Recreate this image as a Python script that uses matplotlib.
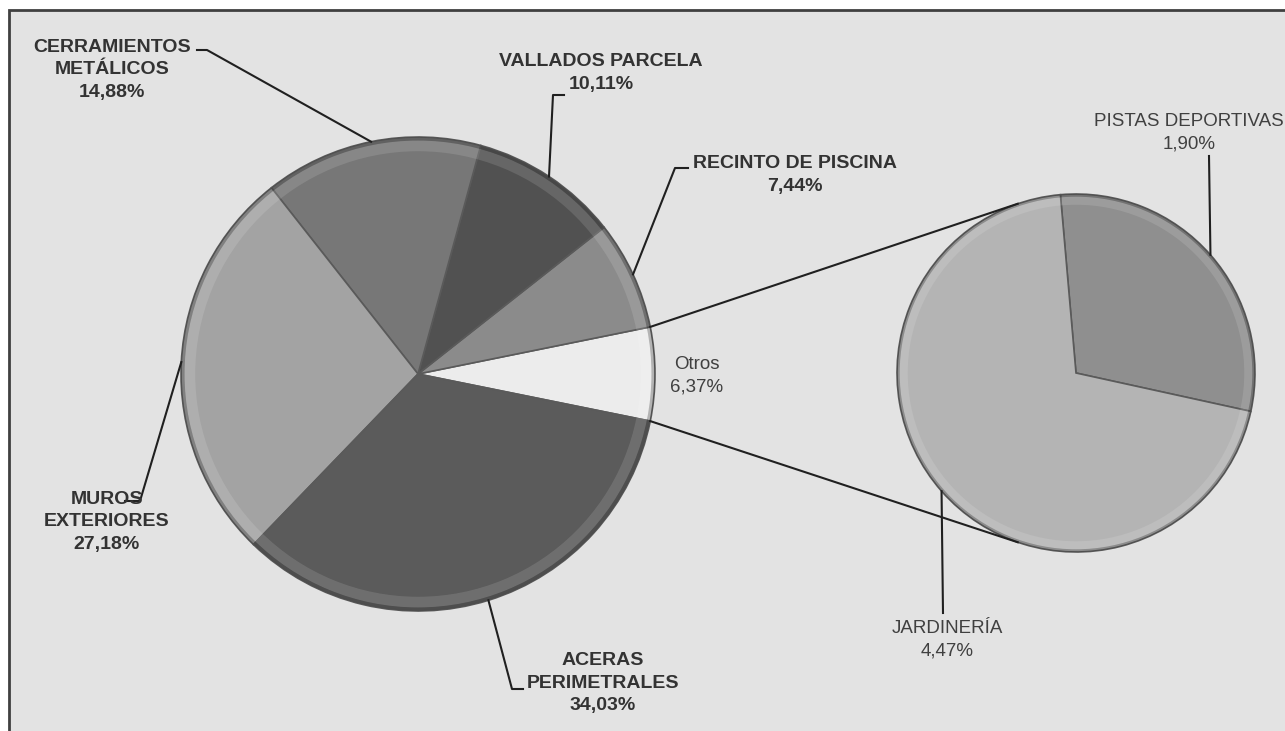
import matplotlib
matplotlib.use("Agg")
import matplotlib.pyplot as plt
from matplotlib.patches import Rectangle, Wedge
import numpy as np

W, H = 1285, 731

# datos (porcentaje del total)
main_names = ["Otros", "RECINTO DE PISCINA", "VALLADOS PARCELA",
              "CERRAMIENTOS\nMETÁLICOS", "MUROS\nEXTERIORES", "ACERAS\nPERIMETRALES"]
main_values = [6.37, 7.44, 10.11, 14.88, 27.18, 34.03]
main_colors = ["#ececec", "#8b8b8b", "#515151", "#777777", "#a3a3a3", "#5b5b5b"]

sub_names = ["PISTAS DEPORTIVAS", "JARDINERÍA"]
sub_values = [1.90, 4.47]
sub_colors = ["#8f8f8f", "#b4b4b4"]

# posiciones en pixeles (y hacia abajo)
main_center = (418, 374)
main_r = 237
sub_center = (1076, 373)
sub_r = 179

main_text_pos = [(697, 376), (795, 175), (601, 73), (112, 70), (107, 522), (603, 683)]
main_leaders = [None, [(688, 168), (675, 168)], [(564, 95), (553, 95)],
                [(197, 50), (207, 50)], [(125, 501), (140, 501)], [(523, 689), (512, 689)]]
sub_text_pos = [(1189, 133), (947, 640)]
sub_leaders = [[(1209, 156)], [(943, 613)]]

FONT = ["Liberation Sans", "DejaVu Sans"]


def P(x, y):
    return (x, H - y)


def fmt(v):
    return f"{v:.2f}%".replace(".", ",")


fig = plt.figure(figsize=(W / 100, H / 100), dpi=100)
fig.patch.set_facecolor("white")
ax = fig.add_axes([0, 0, 1, 1])
ax.add_patch(Rectangle((8.5, -20), W + 40, H - 9.5 + 20, facecolor="#e3e3e3",
                       edgecolor="#404040", linewidth=2, zorder=0))


def draw_pie(values, colors, center, r, start, ccw):
    wedges, _ = ax.pie(values, colors=colors, radius=r, center=P(*center),
                       startangle=start, counterclock=ccw,
                       wedgeprops=dict(edgecolor="#5a5a5a", linewidth=1.2))
    for w in wedges:
        w.set_zorder(2)
    # bisel
    ax.add_patch(Wedge(P(*center), r * 0.985, 0, 360, width=r * 0.045,
                       facecolor="white", alpha=0.12, edgecolor="none", zorder=3))
    ax.add_patch(Wedge(P(*center), r, 0, 360, width=r * 0.015,
                       facecolor="#303030", alpha=0.3, edgecolor="none", zorder=3))
    return wedges


main_start = -main_values[0] / sum(main_values) * 360 / 2
mw = draw_pie(main_values, main_colors, main_center, main_r, main_start, True)
sw = draw_pie(sub_values, sub_colors, sub_center, sub_r, 95, False)


def rim(center, r, ang):
    cx, cy = P(*center)
    a = np.deg2rad(ang)
    return (cx + r * np.cos(a), cy + r * np.sin(a))


# lineas de conexion
otros = mw[0]
for a_main, a_sub in [(otros.theta2, 109), (otros.theta1, -109)]:
    p1 = rim(main_center, main_r, a_main)
    p2 = rim(sub_center, sub_r, a_sub)
    ax.plot([p1[0], p2[0]], [p1[1], p2[1]], color="#202020", lw=1.5, zorder=4)

# etiquetas del grafico principal
for i, (name, v) in enumerate(zip(main_names, main_values)):
    bold = i > 0
    ax.text(*P(*main_text_pos[i]), f"{name}\n{fmt(v)}", ha="center", va="center",
            fontsize=14 if bold else 13.5, fontweight="bold" if bold else "normal",
            color="#333333" if bold else "#404040", family=FONT,
            linespacing=1.42, zorder=5)
    if main_leaders[i]:
        w = mw[i]
        end = rim(main_center, main_r, (w.theta1 + w.theta2) / 2)
        pts = [P(*p) for p in main_leaders[i]] + [end]
        ax.plot([p[0] for p in pts], [p[1] for p in pts], color="#202020",
                lw=1.5, zorder=4)

# etiquetas del grafico secundario
for i, (name, v) in enumerate(zip(sub_names, sub_values)):
    ax.text(*P(*sub_text_pos[i]), f"{name}\n{fmt(v)}", ha="center", va="center",
            fontsize=13.5, color="#404040", family=FONT, linespacing=1.42, zorder=5)
    w = sw[i]
    end = rim(sub_center, sub_r, (w.theta1 + w.theta2) / 2)
    pts = [P(*p) for p in sub_leaders[i]] + [end]
    ax.plot([p[0] for p in pts], [p[1] for p in pts], color="#202020",
            lw=1.5, zorder=4)

ax.set_xlim(0, W)
ax.set_ylim(0, H)
ax.set_aspect("equal")
ax.axis("off")

fig.savefig("out.png", dpi=100, facecolor=fig.get_facecolor())
